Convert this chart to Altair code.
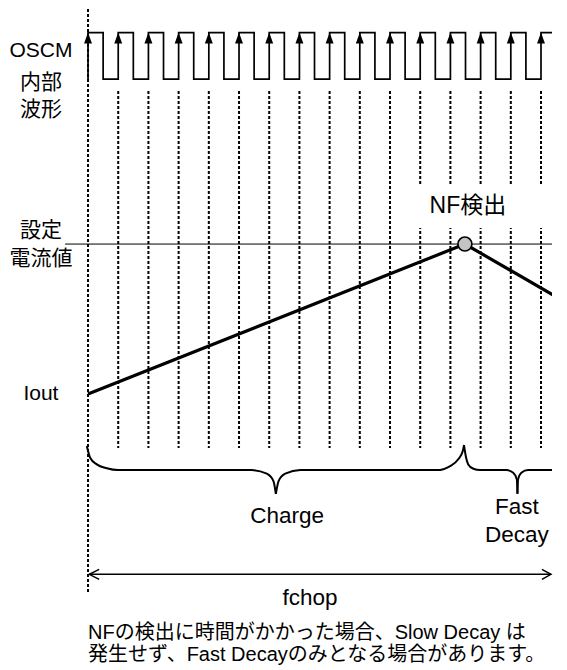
import altair as alt
import pandas as pd

FONT = "Liberation Sans, Arial, 'Noto Sans CJK JP', sans-serif"

# x: time in OSCM clock periods (0 = first rising edge)
# y: level in current units (0 = Iout level, 1 = set current value)
T_MIN, T_MAX = -2.65, 15.364
V_MIN, V_MAX = -1.793, 2.567

# OSCM internal waveform
clock_edges = list(range(16))
clock_high_width = 0.5
clock_high = 2.41
clock_low = 2.10
clock_end = 15.86

# dashed guide lines
first_guide = [0.0]
first_guide_top, first_guide_bottom = 2.567, -1.33
guide_edges = clock_edges[1:]
guide_top, guide_bottom = 2.02, -0.36

# set current value line
set_level = 1.0
set_line_t = [-0.76, 15.86]

# Iout waveform
iout_t = [0.0, 12.48, 15.86]
iout_v = [0.0, 1.0, 0.607]
nf_t, nf_v = 12.48, 1.0

# white box behind the "NF検出" label
box_t = [10.33, 15.5]
box_v = [1.107, 1.40]

# braces
brace_pieces = {
    "charge_l": ([-0.04, 0.07, 0.29, 0.62, 1.00, 5.42, 5.92, 6.14, 6.22],
                 [-0.347, -0.425, -0.469, -0.495, -0.507, -0.507, -0.531, -0.580, -0.665]),
    "charge_r": ([6.22, 6.31, 6.53, 7.03, 11.55, 11.99, 12.26, 12.41, 12.45],
                 [-0.665, -0.580, -0.531, -0.507, -0.507, -0.480, -0.435, -0.380, -0.340]),
    "fast_l": ([12.45, 12.52, 12.59, 12.76, 12.98, 13.86, 14.08, 14.20, 14.22],
               [-0.340, -0.425, -0.469, -0.498, -0.507, -0.507, -0.525, -0.569, -0.665]),
    "fast_r": ([14.22, 14.24, 14.35, 14.57, 15.52, 15.74, 15.86],
               [-0.665, -0.569, -0.525, -0.507, -0.507, -0.473, -0.435]),
}

# fchop double arrow
span_t = [0.04, 15.33]
span_v = -1.202
arrow_pieces = {
    "left": ([0.37, 0.04, 0.37], [-1.169, -1.202, -1.236]),
    "right": ([15.03, 15.33, 15.03], [-1.169, -1.202, -1.236]),
}

# labels
left_labels = ["OSCM", "内部", "波形", "設定", "電流値", "Iout"]
left_labels_v = [2.29, 2.072, 1.892, 1.09, 0.90, 0.0]
left_labels_t = -1.56

nf_label = ["NF検出"]
nf_label_t, nf_label_v = [12.58], [1.255]

phase_labels = ["Charge", "Fast", "Decay", "fchop"]
phase_labels_t = [6.59, 14.2, 14.2, 7.35]
phase_labels_v = [-0.81, -0.752, -0.942, -1.362]

notes = ["NFの検出に時間がかかった場合、Slow Decay は",
         "発生せず、Fast Decayのみとなる場合があります。"]
notes_t = [0.0, 0.0]
notes_v = [-1.59, -1.74]

# ---------------------------------------------------------------
xs = alt.Scale(domain=[T_MIN, T_MAX], nice=False, zero=False)
ys = alt.Scale(domain=[V_MIN, V_MAX], nice=False, zero=False)


def X(f):
    return alt.X(f"{f}:Q", scale=xs, axis=None)


def Y(f):
    return alt.Y(f"{f}:Q", scale=ys, axis=None)


# clock path table
clk_rows = []
for k in clock_edges:
    clk_rows += [(k, clock_low), (k, clock_high),
                 (k + clock_high_width, clock_high), (k + clock_high_width, clock_low)]
clk_rows.append((clock_end, clock_low))
clk_df = pd.DataFrame([{"t": t, "v": v, "i": i} for i, (t, v) in enumerate(clk_rows)])

arrow_df = pd.DataFrame({"t": clock_edges, "v": [clock_high] * len(clock_edges)})

guide1_df = pd.DataFrame({"t": first_guide, "top": first_guide_top, "bottom": first_guide_bottom})
guide_df = pd.DataFrame({"t": guide_edges, "top": guide_top, "bottom": guide_bottom})

box_df = pd.DataFrame({"t1": [box_t[0]], "t2": [box_t[1]], "v1": [box_v[0]], "v2": [box_v[1]]})

set_df = pd.DataFrame({"t": set_line_t, "v": [set_level] * 2})
iout_df = pd.DataFrame({"t": iout_t, "v": iout_v})
nf_df = pd.DataFrame({"t": [nf_t], "v": [nf_v]})

brace_df = pd.DataFrame([
    {"piece": name, "t": t, "v": v, "i": i}
    for name, (ts, vs) in brace_pieces.items()
    for i, (t, v) in enumerate(zip(ts, vs))
])

span_df = pd.DataFrame({"t": span_t, "v": [span_v] * 2})
arrowhead_df = pd.DataFrame([
    {"piece": name, "t": t, "v": v, "i": i}
    for name, (ts, vs) in arrow_pieces.items()
    for i, (t, v) in enumerate(zip(ts, vs))
])

left_df = pd.DataFrame({"label": left_labels, "t": left_labels_t, "v": left_labels_v})
nflab_df = pd.DataFrame({"label": nf_label, "t": nf_label_t, "v": nf_label_v})
phase_df = pd.DataFrame({"label": phase_labels, "t": phase_labels_t, "v": phase_labels_v})
notes_df = pd.DataFrame({"label": notes, "t": notes_t, "v": notes_v})

layers = [
    alt.Chart(guide1_df).mark_rule(color="black", strokeWidth=2, strokeDash=[3, 2]).encode(
        x=X("t"), y=Y("top"), y2=alt.Y2("bottom:Q")),
    alt.Chart(guide_df).mark_rule(color="black", strokeWidth=2, strokeDash=[3, 2]).encode(
        x=X("t"), y=Y("top"), y2=alt.Y2("bottom:Q")),
    alt.Chart(box_df).mark_rect(color="white", clip=True).encode(
        x=X("t1"), x2=alt.X2("t2:Q"), y=Y("v1"), y2=alt.Y2("v2:Q")),
    alt.Chart(set_df).mark_line(color="black", strokeWidth=1, clip=True).encode(
        x=X("t"), y=Y("v")),
    alt.Chart(iout_df).mark_line(color="black", strokeWidth=3.2, clip=True).encode(
        x=X("t"), y=Y("v")),
    alt.Chart(clk_df).mark_line(color="black", strokeWidth=1.7, strokeJoin="miter",
                                clip=True).encode(
        x=X("t"), y=Y("v"), order=alt.Order("i:Q")),
    alt.Chart(arrow_df).mark_point(shape="M0,0L-0.36,1L0.36,1Z", size=484, filled=True,
                                   color="black", opacity=1, strokeWidth=0).encode(
        x=X("t"), y=Y("v")),
    alt.Chart(nf_df).mark_point(shape="circle", size=196, filled=True, fill="#c4c4c4",
                                stroke="black", strokeWidth=1.6, opacity=1).encode(
        x=X("t"), y=Y("v")),
    alt.Chart(brace_df).mark_line(color="black", strokeWidth=2, interpolate="monotone",
                                  clip=True).encode(
        x=X("t"), y=Y("v"), detail="piece:N", order=alt.Order("i:Q")),
    alt.Chart(span_df).mark_line(color="black", strokeWidth=1.5).encode(x=X("t"), y=Y("v")),
    alt.Chart(arrowhead_df).mark_line(color="black", strokeWidth=1.5).encode(
        x=X("t"), y=Y("v"), detail="piece:N", order=alt.Order("i:Q")),
    alt.Chart(left_df).mark_text(font=FONT, fontSize=21, align="center", baseline="middle",
                                 color="black").encode(x=X("t"), y=Y("v"), text="label:N"),
    alt.Chart(nflab_df).mark_text(font=FONT, fontSize=23, align="center", baseline="middle",
                                  color="black").encode(x=X("t"), y=Y("v"), text="label:N"),
    alt.Chart(phase_df).mark_text(font=FONT, fontSize=22.5, align="center", baseline="middle",
                                  color="black").encode(x=X("t"), y=Y("v"), text="label:N"),
    alt.Chart(notes_df).mark_text(font=FONT, fontSize=20, align="left", baseline="middle",
                                  color="black").encode(x=X("t"), y=Y("v"), text="label:N"),
]

chart = alt.layer(*layers).properties(
    width=544, height=654, padding=0, background="white"
).configure_view(strokeWidth=0)

chart.save("out.html", embed_options={"renderer": "svg", "actions": False})
